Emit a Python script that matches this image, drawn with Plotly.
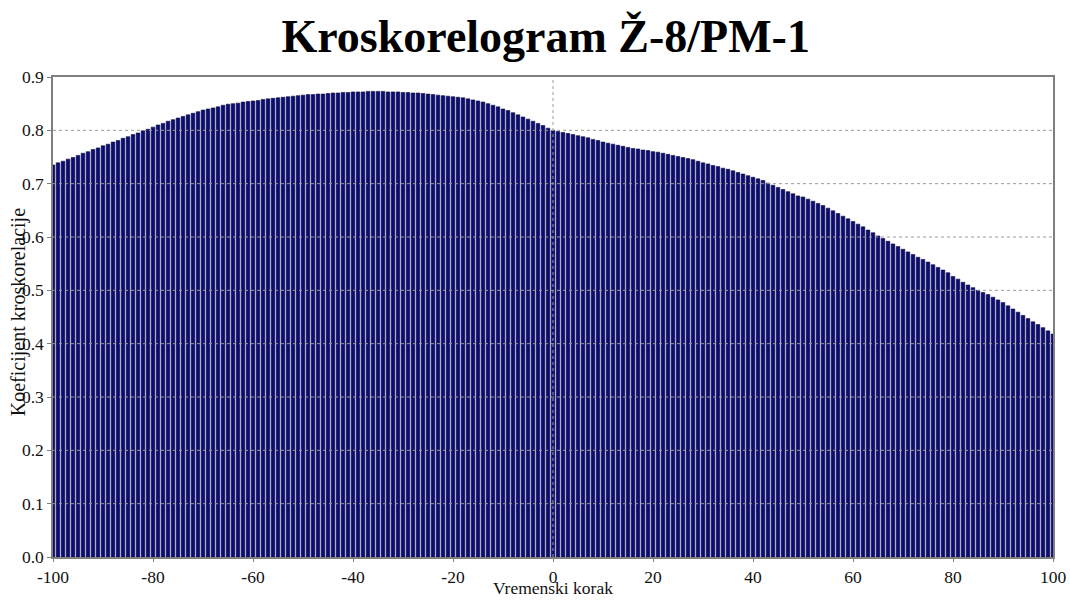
import plotly.graph_objects as go

# Vremenski korak (lag) -100..100 i koeficijent kroskorelacije
lags = list(range(-100, 101))
coef = [
    # -100 .. -91
    0.735, 0.739, 0.742, 0.746, 0.749, 0.753, 0.757, 0.760, 0.764, 0.767,
    # -90 .. -81
    0.771, 0.774, 0.778, 0.781, 0.785, 0.788, 0.792, 0.795, 0.799, 0.802,
    # -80 .. -71
    0.806, 0.810, 0.813, 0.817, 0.820, 0.823, 0.826, 0.829, 0.832, 0.835,
    # -70 .. -61
    0.838, 0.840, 0.842, 0.844, 0.847, 0.849, 0.850, 0.851, 0.853, 0.854,
    # -60 .. -51
    0.855, 0.856, 0.858, 0.859, 0.860, 0.861, 0.862, 0.863, 0.864, 0.865,
    # -50 .. -41
    0.866, 0.867, 0.867, 0.868, 0.868, 0.869, 0.870, 0.870, 0.871, 0.871,
    # -40 .. -31
    0.872, 0.872, 0.872, 0.873, 0.873, 0.873, 0.873, 0.872, 0.872, 0.872,
    # -30 .. -21
    0.871, 0.871, 0.870, 0.870, 0.869, 0.868, 0.867, 0.866, 0.865, 0.864,
    # -20 .. -11
    0.863, 0.862, 0.861, 0.859, 0.857, 0.855, 0.853, 0.850, 0.847, 0.844,
    # -10 .. -1
    0.840, 0.837, 0.833, 0.829, 0.825, 0.821, 0.817, 0.813, 0.809, 0.804,
    # 0 .. 9
    0.800, 0.798, 0.796, 0.794, 0.792, 0.790, 0.788, 0.786, 0.783, 0.781,
    # 10 .. 19
    0.778, 0.776, 0.774, 0.772, 0.770, 0.768, 0.766, 0.765, 0.763, 0.762,
    # 20 .. 29
    0.760, 0.759, 0.757, 0.755, 0.753, 0.751, 0.749, 0.747, 0.745, 0.742,
    # 30 .. 39
    0.739, 0.737, 0.734, 0.732, 0.729, 0.727, 0.724, 0.721, 0.718, 0.715,
    # 40 .. 49
    0.712, 0.709, 0.706, 0.701, 0.697, 0.693, 0.689, 0.685, 0.681, 0.677,
    # 50 .. 59
    0.675, 0.671, 0.667, 0.663, 0.659, 0.654, 0.649, 0.644, 0.639, 0.634,
    # 60 .. 69
    0.629, 0.624, 0.619, 0.613, 0.608, 0.602, 0.597, 0.592, 0.587, 0.582,
    # 70 .. 79
    0.577, 0.572, 0.567, 0.562, 0.558, 0.553, 0.548, 0.543, 0.538, 0.533,
    # 80 .. 89
    0.526, 0.521, 0.515, 0.510, 0.505, 0.500, 0.496, 0.492, 0.487, 0.482,
    # 90 .. 99
    0.477, 0.471, 0.465, 0.459, 0.453, 0.447, 0.441, 0.436, 0.430, 0.424,
    # 100
    0.418,
]

x_ticks = [-100, -80, -60, -40, -20, 0, 20, 40, 60, 80, 100]
x_labels = ["-100", "-80", "-60", "-40", "-20", "0", "20", "40", "60", "80", "100"]
y_ticks = [0.0, 0.1, 0.2, 0.3, 0.4, 0.5, 0.6, 0.7, 0.8, 0.9]

FONT = "Liberation Serif, Times New Roman, serif"
GRID = "#9a9a9a"
AXIS = "#7f7f7f"

fig = go.Figure()
fig.add_trace(go.Bar(
    x=lags, y=coef,
    marker=dict(color="#0c0c78", line=dict(color="#06063a", width=0.6)),
    showlegend=False,
))

# dotted grid drawn over the bars, like the original
for yv in y_ticks[1:-1]:
    fig.add_shape(type="line", xref="paper", x0=0, x1=1, y0=yv, y1=yv,
                  line=dict(color=GRID, width=1, dash="dot"), layer="above")
fig.add_shape(type="line", yref="paper", x0=0, x1=0, y0=0, y1=1,
              line=dict(color=GRID, width=1, dash="dot"), layer="above")

fig.add_annotation(
    text="Koeficijent kroskorelacije", textangle=-90,
    xref="paper", yref="paper", x=-0.035, y=0.51,
    xanchor="center", yanchor="middle", showarrow=False,
    font=dict(family=FONT, size=20, color="#111"),
)
fig.add_annotation(
    text="Vremenski korak",
    xref="paper", yref="paper", x=0.5, y=-0.0885,
    xanchor="center", yanchor="bottom", showarrow=False, borderpad=0,
    font=dict(family=FONT, size=17.5, color="#111"),
)

fig.update_layout(
    width=1070, height=600,
    margin=dict(l=53, r=17, t=77, b=43),
    paper_bgcolor="white", plot_bgcolor="white",
    bargap=0.28,
    title=dict(text="<b>Kroskorelogram Ž-8/PM-1</b>", x=0.51, xanchor="center",
               y=0.967, yanchor="top",
               font=dict(family=FONT, size=46, color="black")),
    font=dict(family=FONT, size=17.5, color="#111"),
)
fig.update_xaxes(
    range=[-100, 100], tickvals=x_ticks, ticktext=x_labels,
    ticks="outside", ticklen=3, tickcolor=AXIS, automargin=False,
    showgrid=False, zeroline=False,
    showline=True, linecolor=AXIS, linewidth=1.5, mirror=True,
)
fig.update_yaxes(
    range=[0, 0.9], tickvals=y_ticks, tickformat=".1f", ticks="outside",
    ticklen=4, tickcolor=AXIS, automargin=False,
    showgrid=False, zeroline=False,
    showline=True, linecolor=AXIS, linewidth=1.5, mirror=True,
)

# page body margin would shift the fixed-size figure by 8px
fig.write_html("out.html", config={"displayModeBar": False},
               post_script="document.body.style.margin='0';")
